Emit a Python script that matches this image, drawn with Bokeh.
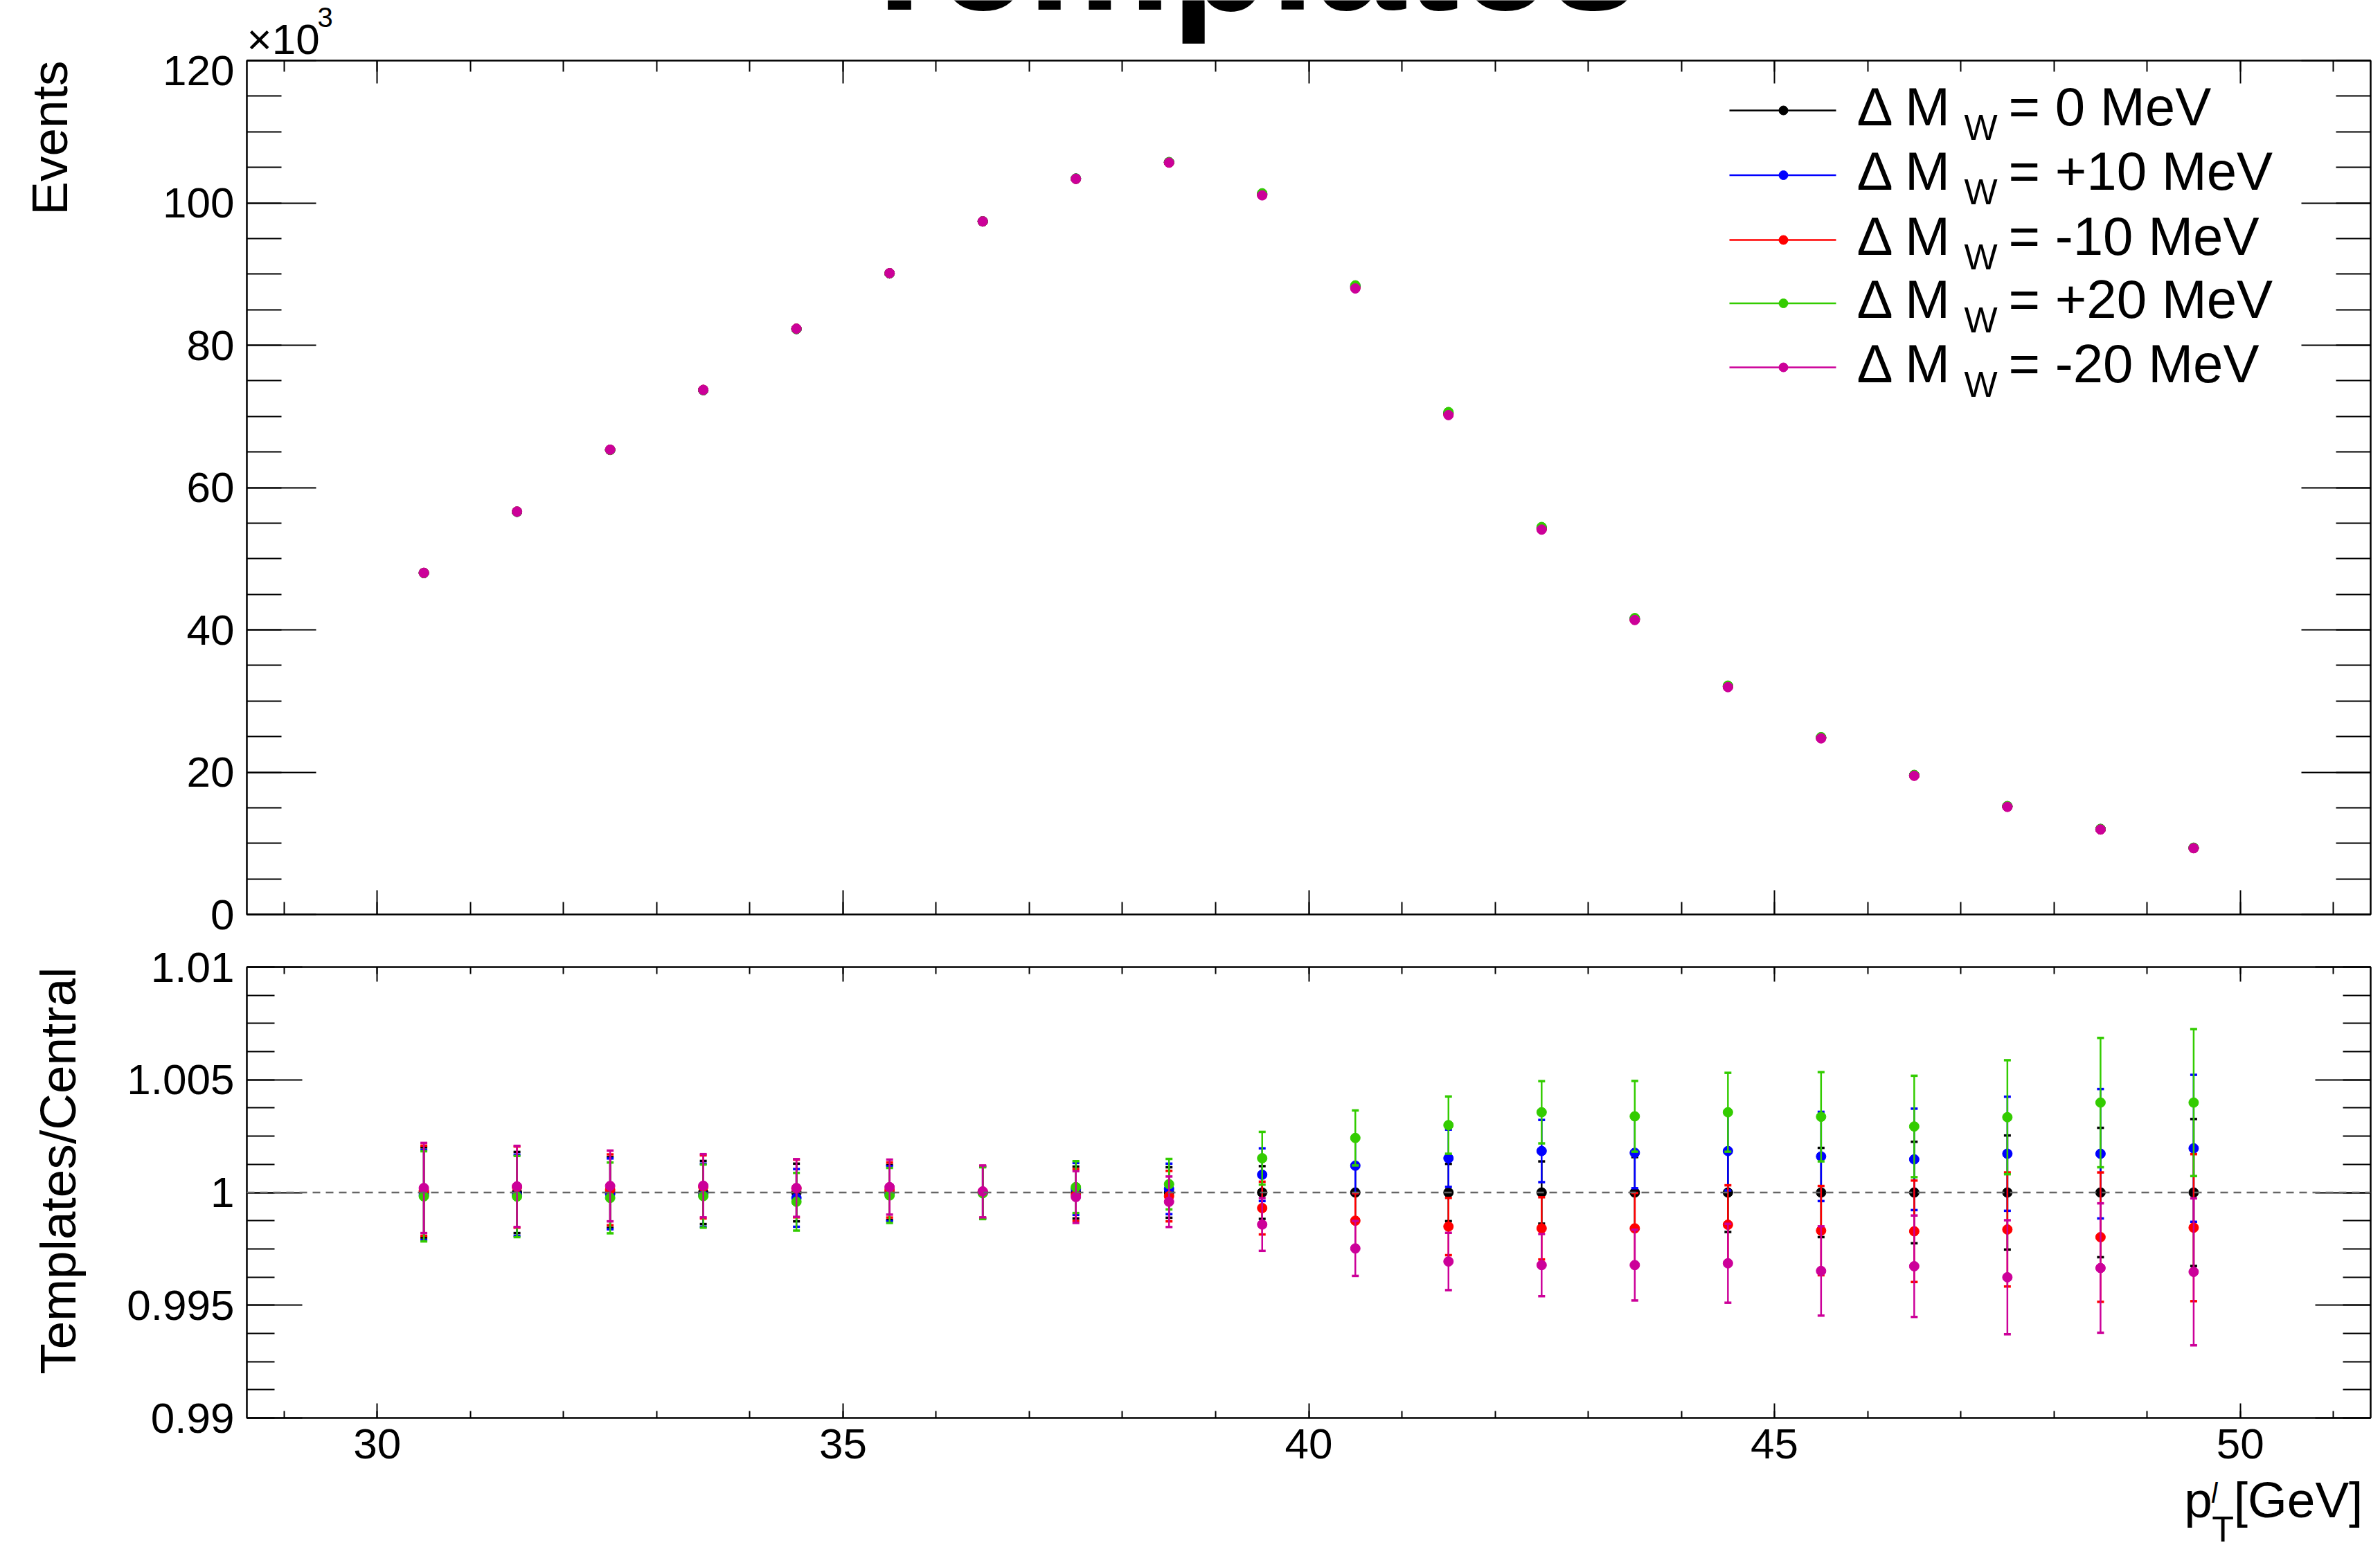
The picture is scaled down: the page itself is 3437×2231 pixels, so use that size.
import math
from bokeh.plotting import figure
from bokeh.models import (Range1d, LinearAxis, FixedTicker, CustomJSTickFormatter,
                          Label, Span)
from bokeh.core.properties import value
from bokeh.layouts import column, row
from bokeh.embed import file_html
from bokeh.resources import INLINE

# ---------------- data ----------------
pt_bins = [30.5, 31.5, 32.5, 33.5, 34.5, 35.5, 36.5, 37.5, 38.5, 39.5,
           40.5, 41.5, 42.5, 43.5, 44.5, 45.5, 46.5, 47.5, 48.5, 49.5]

# events in units of 10^3
events_0 = [48.00, 56.60, 65.30, 73.70, 82.30, 90.10, 97.40, 103.40, 105.70, 101.20,
            88.20, 70.40, 54.26, 41.51, 32.05, 24.84, 19.55, 15.18, 11.98, 9.34]
events_p10 = [47.99, 56.59, 65.30, 73.69, 82.28, 90.10, 97.40, 103.42, 105.72, 101.28,
              88.30, 70.51, 54.36, 41.58, 32.11, 24.88, 19.58, 15.21, 12.00, 9.36]
events_m10 = [48.00, 56.61, 65.31, 73.72, 82.31, 90.11, 97.40, 103.39, 105.68, 101.13,
              88.09, 70.29, 54.17, 41.44, 32.00, 24.80, 19.52, 15.16, 11.96, 9.33]
events_p20 = [47.99, 56.59, 65.28, 73.69, 82.27, 90.09, 97.40, 103.42, 105.74, 101.35,
              88.41, 70.61, 54.45, 41.65, 32.16, 24.92, 19.61, 15.23, 12.03, 9.38]
events_m20 = [48.01, 56.62, 65.32, 73.72, 82.32, 90.12, 97.40, 103.38, 105.66, 101.06,
              87.98, 70.18, 54.09, 41.38, 31.95, 24.75, 19.49, 15.12, 11.94, 9.31]

ratio_0 = [1.0] * 20
ratio_p10 = [0.99989, 0.99988, 0.99994, 0.99988, 0.99976, 0.99995, 0.99999, 1.00016, 1.00016, 1.00079,
             1.00119, 1.00152, 1.00184, 1.00176, 1.00184, 1.00160, 1.00147, 1.00172, 1.00172, 1.00196]
ratio_m10 = [1.00008, 1.00024, 1.00012, 1.00025, 1.00018, 1.00011, 1.00003, 0.99989, 0.99984, 0.99931,
             0.99875, 0.99849, 0.99841, 0.99841, 0.99857, 0.99831, 0.99828, 0.99836, 0.99802, 0.99844]
ratio_p20 = [0.99983, 0.99982, 0.99976, 0.99984, 0.99959, 0.99987, 0.99997, 1.00024, 1.00037, 1.00152,
             1.00242, 1.00299, 1.00356, 1.00338, 1.00356, 1.00336, 1.00293, 1.00334, 1.00399, 1.00399]
ratio_m20 = [1.00020, 1.00027, 1.00029, 1.00030, 1.00020, 1.00024, 1.00005, 0.99980, 0.99959, 0.99858,
             0.99752, 0.99694, 0.99678, 0.99678, 0.99686, 0.99652, 0.99673, 0.99624, 0.99665, 0.99648]
ratio_err = [0.00200, 0.00180, 0.00157, 0.00140, 0.00128, 0.00122, 0.00115, 0.00115, 0.00112, 0.00117,
             0.00122, 0.00127, 0.00138, 0.00157, 0.00175, 0.00198, 0.00225, 0.00253, 0.00287, 0.00326]

series_names = ["0 MeV", "+10 MeV", "-10 MeV", "+20 MeV", "-20 MeV"]
series_colors = ["#000000", "#0000ff", "#ff0000", "#33cc00", "#cc0099"]
events_all = [events_0, events_p10, events_m10, events_p20, events_m20]
ratio_all = [ratio_0, ratio_p10, ratio_m10, ratio_p20, ratio_m20]

x_major = [30, 35, 40, 45, 50]
x_minor = list(range(29, 52))
y1_major = [0, 20, 40, 60, 80, 100, 120]
y1_minor = list(range(0, 121, 5))
y2_major = [0.99, 0.995, 1.0, 1.005, 1.01]
y2_minor = [0.99 + i * 0.00125 for i in range(17)]

# ---------------- layout (page pixels) ----------------
FONT = "Liberation Sans"
ASC, DESC = 0.905, 0.212          # font box metrics (em)
XMIN, XMAX = 28.6, 51.4
Y1MIN, Y1MAX = 0.0, 120.0
Y2MIN, Y2MAX = 0.99, 1.01

PAGE_W, PAGE_H = 3433, 2229
TOP_H = 80                 # top strip (title, x10^3)
LEFT_W = 130               # left strip (y titles)
L, W = 356, 3067           # frame left / width
T1, H1 = 87, 1233          # upper frame top / height
B1, T2B, H2, B2 = 38, 38, 651, 86
T2 = T1 + H1 + B1 + T2B    # lower frame top (page)
P1_H = (T1 - TOP_H) + H1 + B1
P2_H = T2B + H2 + B2
BOT_Y0 = TOP_H + P1_H + P2_H
BOT_H = PAGE_H - BOT_Y0
FIG_W = PAGE_W - LEFT_W


def xd(px):
    return XMIN + (px - L) / W * (XMAX - XMIN)


def yd1(py):
    return Y1MIN + (T1 + H1 - py) / H1 * (Y1MAX - Y1MIN)


blank = CustomJSTickFormatter(code="return ''")


def axis(ticks, minor, tin, mtin, formatter=None, size=62, standoff=10):
    ax = LinearAxis(ticker=FixedTicker(ticks=ticks, minor_ticks=minor),
                    major_tick_in=tin, major_tick_out=0,
                    minor_tick_in=mtin, minor_tick_out=0,
                    axis_line_color="black", axis_line_width=2,
                    major_tick_line_color="black", major_tick_line_width=2,
                    minor_tick_line_color="black", minor_tick_line_width=2,
                    major_label_text_font=FONT,
                    major_label_text_font_size=f"{size}px",
                    major_label_text_color="black",
                    major_label_standoff=standoff)
    if formatter is not None:
        ax.formatter = formatter
    return ax


def base_fig(yr, fh, top, bottom):
    p = figure(x_range=Range1d(XMIN, XMAX), y_range=yr,
               frame_width=W, frame_height=fh,
               min_border_left=L - LEFT_W, min_border_right=FIG_W - (L - LEFT_W) - W,
               min_border_top=top, min_border_bottom=bottom,
               x_axis_type=None, y_axis_type=None,
               title_location=None,
               toolbar_location=None, output_backend="svg")
    p.grid.visible = False
    p.outline_line_color = "black"
    p.outline_line_width = 2
    p.background_fill_color = "white"
    p.border_fill_color = "white"
    return p


def strip(x0, x1, y0, y1):
    # a plain canvas whose frame is the whole figure; y grows downward (page px)
    s = figure(x_range=Range1d(x0, x1), y_range=Range1d(y1, y0),
               width=int(x1 - x0), height=int(y1 - y0),
               min_border_left=0, min_border_right=0, min_border_top=0, min_border_bottom=0,
               x_axis_type=None, y_axis_type=None, title_location=None,
               toolbar_location=None, output_backend="svg")
    s.grid.visible = False
    s.outline_line_color = None
    s.background_fill_color = "white"
    s.border_fill_color = "white"
    return s


def put(fig, x, y, text, size, align="left", baseline="bottom", style="normal", angle=0.0):
    fig.text(x=[x], y=[y], text=[text], text_font=value(FONT), text_font_size=f"{size}px",
             text_font_style=style, text_align=align, text_baseline=baseline,
             text_color="black", angle=angle)


# ---------------- top strip: title and exponent ----------------
top = strip(0, PAGE_W, 0, TOP_H)
put(top, 1797, 14 + DESC * 234, "Templates", 234, align="center", baseline="bottom", style="bold")
put(top, 356, 78 - ASC * 62, "×10", 62, align="left", baseline="top")
put(top, 458, 47 - ASC * 40, "3", 40, align="left", baseline="top")

# ---------------- left strip: y titles ----------------
left = strip(0, LEFT_W, TOP_H, PAGE_H)
put(left, 96 + DESC * 73, T1, "Events", 73, align="right", baseline="bottom", angle=math.pi / 2)
put(left, 108 + DESC * 73, T2, "Templates/Central", 73, align="right", baseline="bottom",
    angle=math.pi / 2)

# ---------------- top panel ----------------
p1 = base_fig(Range1d(Y1MIN, Y1MAX), H1, T1 - TOP_H, B1)
p1.add_layout(axis(x_major, x_minor, 35, 18, blank, 1, 0), "below")
p1.add_layout(axis(x_major, x_minor, 33, 16, blank, 1, 0), "above")
p1.add_layout(axis(y1_major, y1_minor, 100, 50, None, 62, 18), "left")
p1.add_layout(axis(y1_major, y1_minor, 100, 50, blank, 1, 0), "right")

for ev, col in zip(events_all, series_colors):
    p1.scatter(pt_bins, ev, size=14, marker="circle", fill_color=col, line_color=col)

# legend (no box, like the reference)
LEG_Y = [159, 252.5, 346, 437.5, 530]
for ry, name, col in zip(LEG_Y, series_names, series_colors):
    p1.line([xd(2497), xd(2651)], [yd1(ry), yd1(ry)], line_color=col, line_width=2.5)
    p1.scatter([xd(2575)], [yd1(ry)], size=13, marker="circle", fill_color=col, line_color=col)
    p1.add_layout(Label(x=xd(2681), y=yd1(ry + 21.5 + DESC * 78), text="Δ M", text_font=FONT,
                        text_font_size="78px", text_align="left", text_baseline="bottom",
                        text_color="black"))
    p1.add_layout(Label(x=xd(2836), y=yd1(ry + 42.5 + DESC * 51), text="W", text_font=FONT,
                        text_font_size="51px", text_align="left", text_baseline="bottom",
                        text_color="black"))
    p1.add_layout(Label(x=xd(2900), y=yd1(ry + 21.5 + DESC * 78), text="= " + name,
                        text_font=FONT, text_font_size="78px", text_align="left",
                        text_baseline="bottom", text_color="black"))

# ---------------- ratio panel ----------------
fmt2 = CustomJSTickFormatter(code="return Number(tick.toFixed(4)).toString()")
p2 = base_fig(Range1d(Y2MIN, Y2MAX), H2, T2B, B2)
p2.add_layout(axis(x_major, x_minor, 21, 10, None, 62, 16), "below")
p2.add_layout(axis(x_major, x_minor, 21, 10, blank, 1, 0), "above")
p2.add_layout(axis(y2_major, y2_minor, 80, 40, fmt2, 62, 18), "left")
p2.add_layout(axis(y2_major, y2_minor, 80, 40, blank, 1, 0), "right")

p2.add_layout(Span(location=1.0, dimension="width", line_color="#666666",
                   line_width=2.5, line_dash="11 8"))

for rat, col in zip(ratio_all, series_colors):
    lo = [r - e for r, e in zip(rat, ratio_err)]
    hi = [r + e for r, e in zip(rat, ratio_err)]
    p2.segment(x0=pt_bins, y0=lo, x1=pt_bins, y1=hi, line_color=col, line_width=2.5)
    p2.scatter(pt_bins, lo, marker="dash", size=10, line_color=col, line_width=3.5)
    p2.scatter(pt_bins, hi, marker="dash", size=10, line_color=col, line_width=3.5)
    p2.scatter(pt_bins, rat, size=14, marker="circle", fill_color=col, line_color=col)

# ---------------- bottom strip: x title  p_T^l [GeV] ----------------
bot = strip(LEFT_W, PAGE_W, BOT_Y0, PAGE_H)
put(bot, 3143, 2190 + DESC * 73, "p", 73)
put(bot, 3185, 2169 + DESC * 40, "l", 40, style="italic")
put(bot, 3186, 2226 - ASC * 52, "T", 52, baseline="top")
put(bot, 3421, 2190 + DESC * 73, "[GeV]", 73, align="right")

layout = column(top, row(left, column(p1, p2, bot, spacing=0), spacing=0), spacing=0)
open("out.html", "w").write(file_html(layout, INLINE))
